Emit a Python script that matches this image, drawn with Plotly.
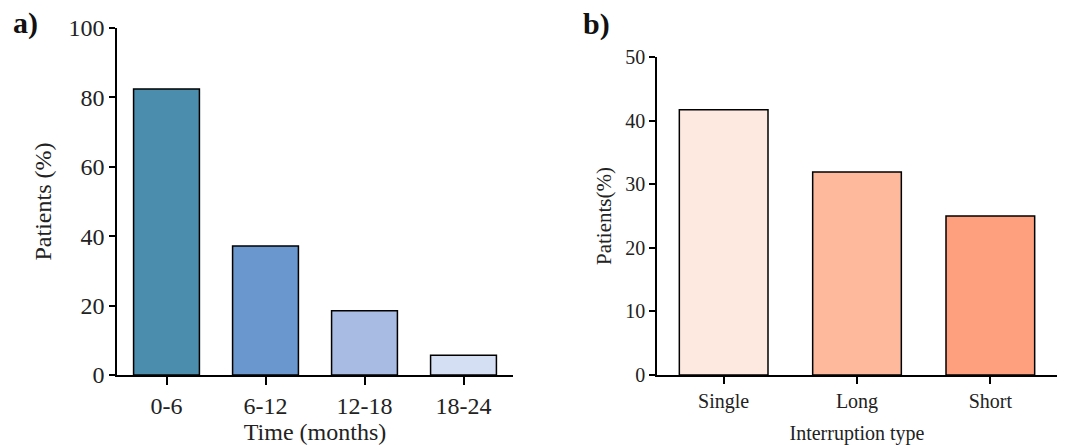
import plotly.graph_objects as go

time_cats = ["0-6", "6-12", "12-18", "18-24"]
time_vals = [82.4, 37.2, 18.5, 5.7]
time_colors = ["#4A8DAD", "#6A97CD", "#A8BBE3", "#D5DFF4"]

int_cats = ["Single", "Long", "Short"]
int_vals = [41.7, 31.9, 25.0]
int_colors = ["#FEE9E1", "#FEB99C", "#FE9F7E"]

FONT = "Liberation Serif"

def f(size, color="#222"):
    return dict(family=FONT, size=size, color=color)

fig = go.Figure()
fig.add_trace(go.Bar(x=time_cats, y=time_vals, marker=dict(color=time_colors, line=dict(color="black", width=1.5)),
                     xaxis="x", yaxis="y", showlegend=False))
fig.add_trace(go.Bar(x=int_cats, y=int_vals, marker=dict(color=int_colors, line=dict(color="black", width=1.5)),
                     xaxis="x2", yaxis="y2", showlegend=False))

ax_common = dict(showline=True, linecolor="black", linewidth=1.5, ticks="outside", tickcolor="black",
                 tickwidth=1.5, showgrid=False, zeroline=False, automargin=False)

fig.update_layout(
    width=1071, height=445,
    margin=dict(l=0, r=0, t=0, b=0),
    paper_bgcolor="white", plot_bgcolor="white",
    font=f(20),
    bargap=0.335,
    xaxis=dict(domain=[117/1071, 513/1071], anchor="y", range=[-0.5, 3.5], ticklen=8,
               tickfont=f(24), title=dict(text="Time (months)", font=f(24), standoff=4),
               **ax_common),
    yaxis=dict(domain=[70/445, 417/445], anchor="x", range=[0, 100], dtick=20, ticklen=6,
               tickfont=f(24), title=dict(text="Patients (%)", font=f(24), standoff=10),
               **ax_common),
    xaxis2=dict(domain=[657/1071, 1057/1071], anchor="y2", range=[-0.5, 2.5], ticklen=7,
                tickfont=f(20), title=dict(text="Interruption type", font=f(20), standoff=16),
                **ax_common),
    yaxis2=dict(domain=[70/445, 388/445], anchor="x2", range=[0, 50], dtick=10, ticklen=6,
                tickfont=f(20), title=dict(text="Patients(%)", font=f(21), standoff=8),
                **ax_common),
    annotations=[
        dict(text="<b>a)</b>", x=11/1071, y=1 - 23/445, xref="paper", yref="paper", xanchor="left",
             yanchor="middle", showarrow=False, font=f(30, "#111")),
        dict(text="<b>b)</b>", x=581/1071, y=1 - 24/445, xref="paper", yref="paper", xanchor="left",
             yanchor="middle", showarrow=False, font=f(30, "#111")),
    ],
)

fig.write_html("out.html", config={"displayModeBar": False},
               post_script="document.body.style.margin='0';document.body.style.overflow='hidden';")
